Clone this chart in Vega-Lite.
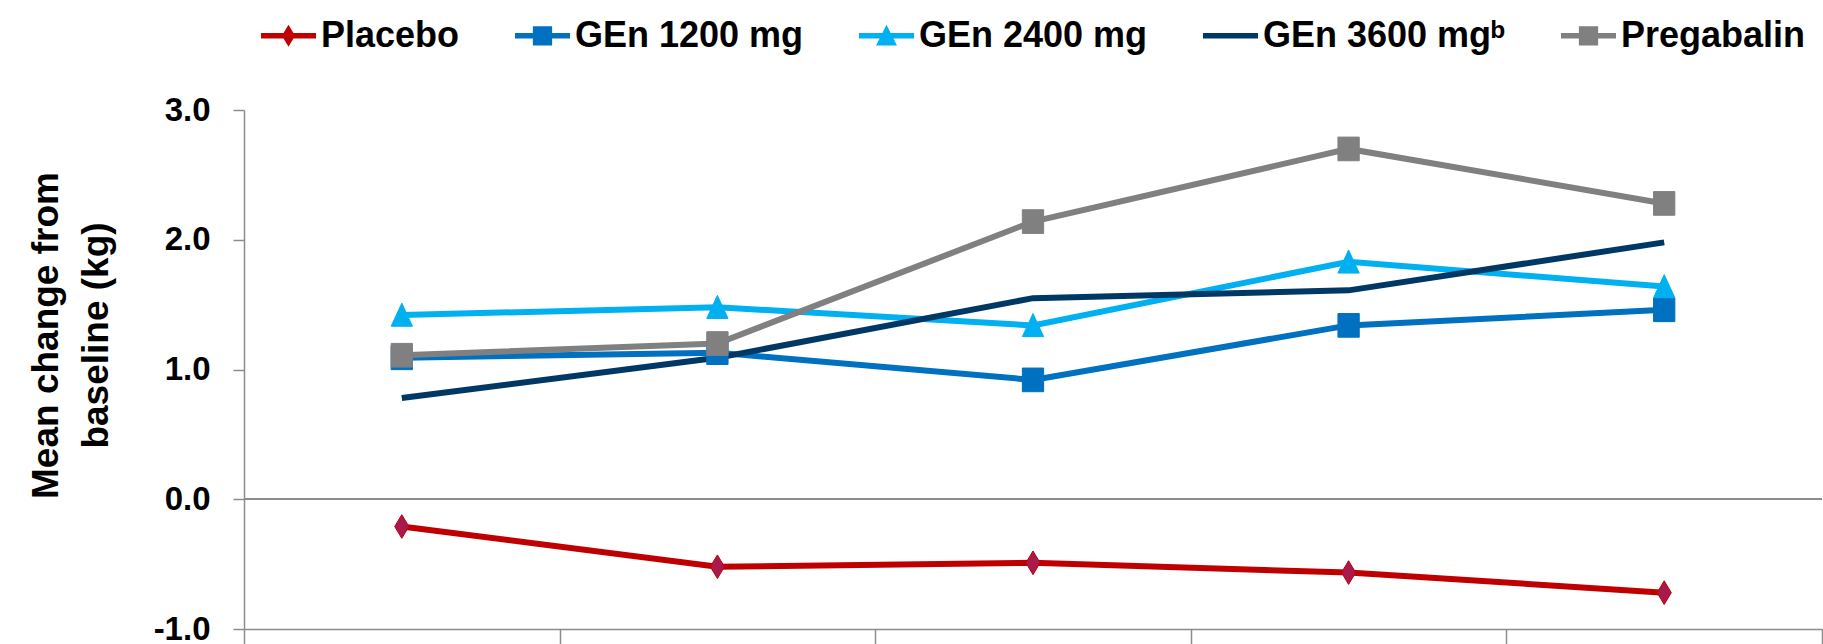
{
  "$schema": "https://vega.github.io/schema/vega-lite/v6.json",
  "width": 1578,
  "height": 519,
  "autosize": {"type": "none"},
  "padding": {"left": 244, "top": 110, "right": 1, "bottom": 15},
  "background": "white",
  "config": {"view": {"stroke": null}, "font": "Liberation Sans"},
  "data": {
    "values": [
      {"time": "T1", "series": "Placebo", "value": -0.21},
      {"time": "T2", "series": "Placebo", "value": -0.52},
      {"time": "T3", "series": "Placebo", "value": -0.49},
      {"time": "T4", "series": "Placebo", "value": -0.565},
      {"time": "T5", "series": "Placebo", "value": -0.72},
      {"time": "T1", "series": "GEn 1200 mg", "value": 1.09},
      {"time": "T2", "series": "GEn 1200 mg", "value": 1.13},
      {"time": "T3", "series": "GEn 1200 mg", "value": 0.92},
      {"time": "T4", "series": "GEn 1200 mg", "value": 1.34},
      {"time": "T5", "series": "GEn 1200 mg", "value": 1.46},
      {"time": "T1", "series": "GEn 2400 mg", "value": 1.42},
      {"time": "T2", "series": "GEn 2400 mg", "value": 1.48},
      {"time": "T3", "series": "GEn 2400 mg", "value": 1.34},
      {"time": "T4", "series": "GEn 2400 mg", "value": 1.83},
      {"time": "T5", "series": "GEn 2400 mg", "value": 1.64},
      {"time": "T1", "series": "GEn 3600 mg", "value": 0.78},
      {"time": "T2", "series": "GEn 3600 mg", "value": 1.09},
      {"time": "T3", "series": "GEn 3600 mg", "value": 1.55},
      {"time": "T4", "series": "GEn 3600 mg", "value": 1.61},
      {"time": "T5", "series": "GEn 3600 mg", "value": 1.98},
      {"time": "T1", "series": "Pregabalin", "value": 1.11},
      {"time": "T2", "series": "Pregabalin", "value": 1.2},
      {"time": "T3", "series": "Pregabalin", "value": 2.14},
      {"time": "T4", "series": "Pregabalin", "value": 2.7},
      {"time": "T5", "series": "Pregabalin", "value": 2.28}
    ]
  },
  "encoding": {
    "x": {
      "field": "time",
      "type": "nominal",
      "sort": ["T1", "T2", "T3", "T4", "T5"],
      "scale": {"type": "band", "paddingInner": 0, "paddingOuter": 0},
      "axis": {
        "title": null,
        "labels": false,
        "domainColor": "#8C8C8C",
        "domainWidth": 1.5,
        "tickColor": "#8C8C8C",
        "tickWidth": 1.5,
        "tickSize": 16,
        "tickBand": "extent"
      }
    },
    "y": {
      "field": "value",
      "type": "quantitative",
      "scale": {"domain": [-1, 3], "nice": false, "zero": false},
      "axis": {
        "values": [-1, 0, 1, 2, 3],
        "labelExpr": "datum.value < 0 ? '-' + format(-datum.value, '.1f') : format(datum.value, '.1f')",
        "grid": false,
        "domainColor": "#8C8C8C",
        "domainWidth": 1.5,
        "tickColor": "#8C8C8C",
        "tickWidth": 1.5,
        "tickSize": 11,
        "labelFont": "Liberation Sans",
        "labelFontSize": 33,
        "labelFontWeight": "bold",
        "labelColor": "black",
        "labelPadding": 23,
        "title": ["Mean change from", "baseline (kg)"],
        "titleFont": "Liberation Sans",
        "titleFontSize": 37,
        "titleFontWeight": "bold",
        "titleColor": "black",
        "titleAngle": -90,
        "titleAlign": "center",
        "titleBaseline": "middle",
        "titleLineHeight": 50,
        "titleX": -198,
        "titleY": 225
      }
    }
  },
  "layer": [
    {
      "mark": {"type": "rule", "color": "#8C8C8C", "strokeWidth": 1.5},
      "encoding": {"x": null, "y": {"datum": 0, "type": "quantitative"}}
    },
    {
      "mark": {"type": "line", "strokeWidth": 6},
      "encoding": {
        "color": {
          "field": "series",
          "type": "nominal",
          "scale": {
            "domain": ["Placebo", "GEn 1200 mg", "GEn 2400 mg", "GEn 3600 mg", "Pregabalin"],
            "range": ["#C00000", "#0070C0", "#00B0F0", "#003865", "#808080"]
          },
          "legend": {
            "orient": "none",
            "direction": "horizontal",
            "legendX": 17,
            "legendY": -102,
            "title": null,
            "symbolSize": 3025,
            "symbolStrokeWidth": 0,
            "symbolOpacity": 1,
            "labelFont": "Liberation Sans",
            "labelFontSize": 36,
            "labelFontWeight": "bold",
            "labelColor": "black",
            "labelOffset": 5,
            "columnPadding": 55,
            "labelLimit": 400,
            "labelExpr": "datum.label === 'GEn 3600 mg' ? 'GEn 3600 mgᵇ' : datum.label",
            "encode": {
              "symbols": {
                "update": {
                  "shape": {"signal": "datum.value === 'Placebo' ? 'M-1,-0.1H1V0.1H-1Z M0,-0.4L0.24,0L0,0.4L-0.24,0Z' : (datum.value === 'GEn 1200 mg' || datum.value === 'Pregabalin') ? 'M-1,-0.1H1V0.1H-1Z M-0.35,-0.35H0.35V0.35H-0.35Z' : datum.value === 'GEn 2400 mg' ? 'M-1,-0.1H1V0.1H-1Z M0,-0.4L0.38,0.35H-0.38Z' : 'M-1,-0.1H1V0.1H-1Z'"},
                  "fill": {"signal": "scale('color', datum.value)"},
                  "stroke": {"value": "transparent"},
                  "strokeWidth": {"value": 0},
                  "opacity": {"value": 1}
                }
              }
            }
          }
        }
      }
    },
    {
      "transform": [{"filter": "datum.series !== 'GEn 3600 mg'"}],
      "mark": {"type": "point", "filled": true, "opacity": 1, "size": 560, "strokeWidth": 1},
      "encoding": {
        "stroke": {
          "field": "series",
          "type": "nominal",
          "scale": {
            "domain": ["Placebo", "GEn 1200 mg", "GEn 2400 mg", "Pregabalin"],
            "range": ["#C00000", "#0070C0", "#00B0F0", "#808080"]
          },
          "legend": null
        },
        "fill": {
          "field": "series",
          "type": "nominal",
          "scale": {
            "domain": ["Placebo", "GEn 1200 mg", "GEn 2400 mg", "Pregabalin"],
            "range": ["#A8194C", "#0070C0", "#00B0F0", "#808080"]
          },
          "legend": null
        },
        "shape": {
          "field": "series",
          "type": "nominal",
          "scale": {
            "domain": ["Placebo", "GEn 1200 mg", "GEn 2400 mg", "Pregabalin"],
            "range": ["M0,-1L0.6,0L0,1L-0.6,0Z", "M-0.9,-1H0.9V1H-0.9Z", "M0,-1L0.9,0.95H-0.9Z", "M-0.9,-1H0.9V1H-0.9Z"]
          },
          "legend": null
        }
      }
    }
  ]
}
